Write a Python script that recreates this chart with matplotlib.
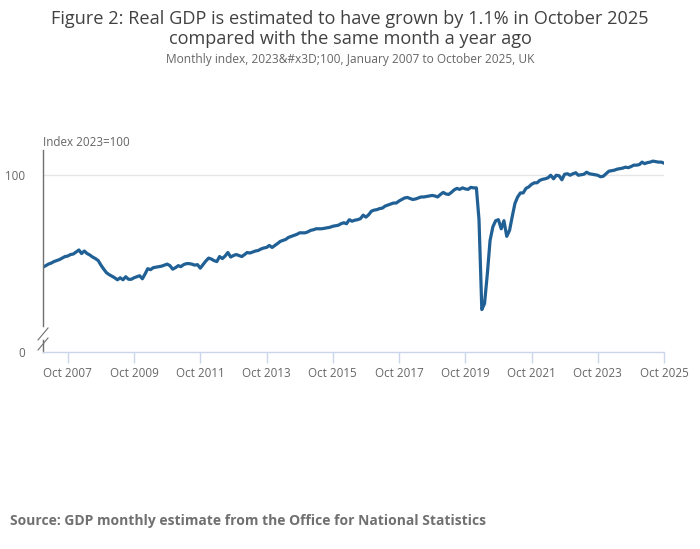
import matplotlib
matplotlib.use("Agg")
import matplotlib.pyplot as plt
from matplotlib.lines import Line2D
import pandas as pd

plt.rcParams['font.family'] = ['Open Sans', 'DejaVu Sans']

# Monthly GDP index (2023=100), January 2007 to October 2025
gdp_2007 = [81.8, 82.1, 82.4, 82.6, 82.9, 83.1, 83.3, 83.6, 83.9, 84.0, 84.3, 84.4]
gdp_2008 = [84.8, 85.2, 84.5, 85.0, 84.5, 84.2, 83.8, 83.5, 83.1, 82.2, 81.4, 80.7]
gdp_2009 = [80.3, 80.0, 79.7, 79.3, 79.7, 79.3, 79.9, 79.4, 79.4, 79.7, 79.9, 80.1]
gdp_2010 = [79.5, 80.5, 81.5, 81.3, 81.7, 81.8, 81.9, 82.0, 82.2, 82.4, 82.1, 81.4]
gdp_2011 = [81.7, 82.1, 81.9, 82.3, 82.5, 82.5, 82.4, 82.2, 82.3, 81.6, 82.3, 83.0]
gdp_2012 = [83.6, 83.4, 83.1, 82.9, 83.9, 83.5, 84.0, 84.7, 83.8, 84.1, 84.3, 84.1]
gdp_2013 = [83.9, 84.3, 84.7, 84.6, 84.8, 85.0, 85.1, 85.4, 85.6, 85.7, 86.1, 85.7]
gdp_2014 = [86.1, 86.5, 86.9, 87.1, 87.3, 87.7, 87.9, 88.1, 88.3, 88.6, 88.6, 88.6]
gdp_2015 = [88.8, 89.1, 89.2, 89.4, 89.4, 89.4, 89.5, 89.6, 89.7, 89.9, 90.0, 90.1]
gdp_2016 = [90.4, 90.6, 90.4, 91.2, 90.9, 91.1, 91.2, 91.4, 92.1, 91.7, 92.2, 92.9]
gdp_2017 = [93.1, 93.2, 93.4, 93.5, 93.9, 94.1, 94.3, 94.5, 94.5, 94.9, 95.2, 95.5]
gdp_2018 = [95.6, 95.4, 95.2, 95.3, 95.5, 95.7, 95.7, 95.8, 95.9, 96.0, 95.9, 95.7]
gdp_2019 = [96.2, 96.6, 96.3, 96.2, 96.6, 97.1, 97.4, 97.2, 97.5, 97.3, 97.2, 97.6]
gdp_2020 = [97.5, 97.5, 91.2, 73.4, 74.6, 80.5, 87.1, 89.8, 91.0, 91.2, 89.4, 91.0]
gdp_2021 = [87.9, 89.1, 91.7, 94.4, 95.7, 96.5, 96.5, 97.4, 97.7, 98.2, 98.5, 98.5]
gdp_2022 = [99.0, 99.2, 99.3, 99.5, 100.0, 99.3, 100.0, 99.9, 99.1, 100.2, 100.3, 100.0]
gdp_2023 = [100.3, 100.5, 100.0, 100.1, 100.2, 100.6, 100.3, 100.2, 100.1, 100.0, 99.7, 99.8]
gdp_2024 = [100.3, 100.8, 100.9, 101.0, 101.2, 101.3, 101.4, 101.6, 101.5, 101.7, 102.0, 102.0]
gdp_2025 = [102.1, 102.6, 102.3, 102.5, 102.6, 102.8, 102.7, 102.6, 102.6, 102.4]

gdp = (gdp_2007 + gdp_2008 + gdp_2009 + gdp_2010 + gdp_2011 + gdp_2012 + gdp_2013
       + gdp_2014 + gdp_2015 + gdp_2016 + gdp_2017 + gdp_2018 + gdp_2019 + gdp_2020
       + gdp_2021 + gdp_2022 + gdp_2023 + gdp_2024 + gdp_2025)
months = pd.date_range('2007-01-01', periods=len(gdp), freq='MS')

tick_years = [2007, 2009, 2011, 2013, 2015, 2017, 2019, 2021, 2023, 2025]
tick_labels = ['Oct %d' % y for y in tick_years]
y_min, y_max = 65, 105

fig = plt.figure(figsize=(7, 5.49), dpi=100)
ax = fig.add_axes([43 / 700, 1 - 352 / 549, 621 / 700, 202 / 549])

ax.plot(months, gdp, color='#206095', linewidth=2.3, solid_joinstyle='round')

ax.set_xlim(months[0], months[-1])
ax.set_ylim(y_min, y_max)

ax.set_xticks([pd.Timestamp('%d-10-01' % y) for y in tick_years])
ax.set_xticklabels(tick_labels)
ax.set_yticks([y_min, 100])
ax.set_yticklabels(['0', '100'])

ax.tick_params(axis='x', colors='#ccd6eb', length=8, width=1, labelcolor='#666666',
               labelsize=8.4, pad=3)
ax.tick_params(axis='y', length=0, labelcolor='#666666', labelsize=8.4, pad=13)
ax.axhline(100, color='#e6e6e6', linewidth=1, zorder=0)

for side in ['top', 'right', 'left']:
    ax.spines[side].set_visible(False)
ax.spines['bottom'].set_color('#ccd6eb')
ax.spines['bottom'].set_linewidth(1)

# broken y axis drawn in axes fraction coordinates
px = 1 / 202
ax.add_line(Line2D([0, 0], [(352 - 326) * px, 1], transform=ax.transAxes,
                   color='#707070', linewidth=1, clip_on=False))
ax.add_line(Line2D([0, 0], [0, (352 - 340) * px], transform=ax.transAxes,
                   color='#707070', linewidth=1, clip_on=False))
dx = 5 / 621
ax.add_line(Line2D([-dx, dx], [(352 - 340) * px, (352 - 328) * px], transform=ax.transAxes,
                   color='#707070', linewidth=0.8, clip_on=False))
ax.add_line(Line2D([-dx, dx], [(352 - 350) * px, (352 - 338) * px], transform=ax.transAxes,
                   color='#707070', linewidth=0.8, clip_on=False))

fig.text(43 / 700, 1 - 142 / 549, 'Index 2023=100', fontsize=8.4, color='#666666',
         ha='left', va='center')

fig.text(0.5, 1 - 29 / 549,
         'Figure 2: Real GDP is estimated to have grown by 1.1% in October 2025\n'
         'compared with the same month a year ago',
         fontsize=13.1, color='#414042', ha='center', va='center', linespacing=1.15)
fig.text(0.5, 1 - 60 / 549,
         'Monthly index, 2023&#x3D;100, January 2007 to October 2025, UK',
         fontsize=8.6, color='#666666', ha='center', va='center')
fig.text(10 / 700, 1 - 521 / 549,
         'Source: GDP monthly estimate from the Office for National Statistics',
         fontsize=10, fontweight='bold', color='#707070', ha='left', va='center')

fig.savefig('out.png', dpi=100, facecolor='white')
